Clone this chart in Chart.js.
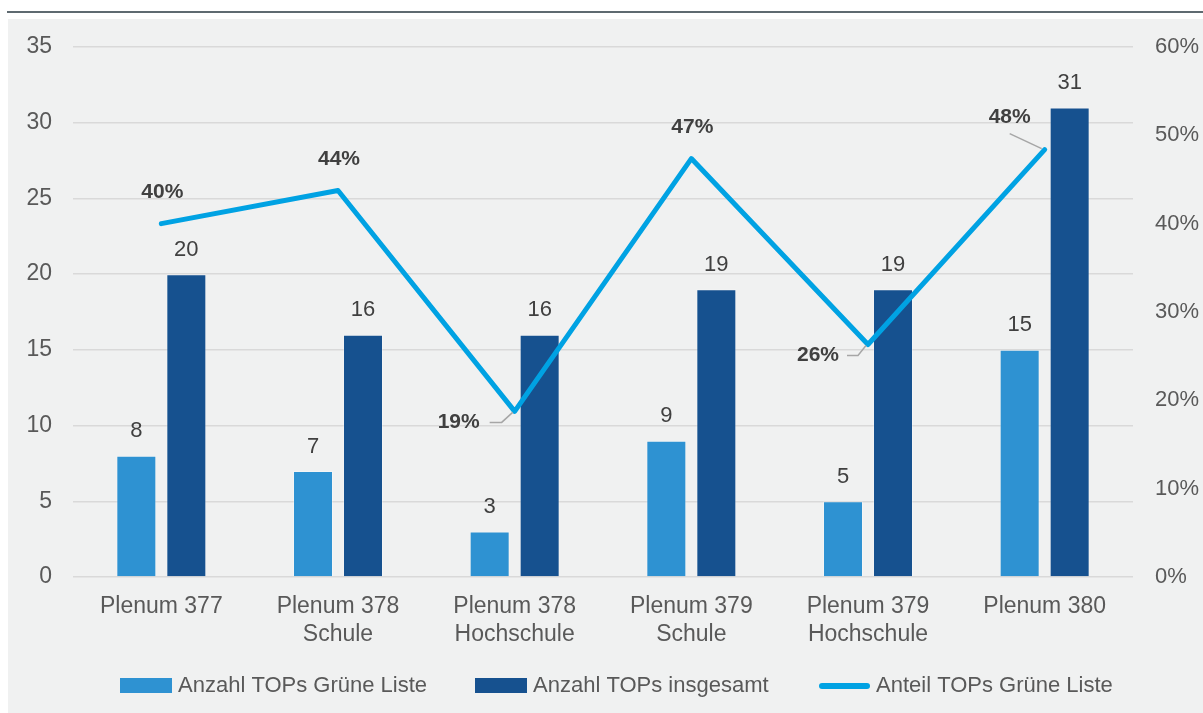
<!DOCTYPE html>
<html>
<head>
<meta charset="utf-8">
<script src="https://cdn.jsdelivr.net/npm/chart.js@4.4.1/dist/chart.umd.min.js"></script>
<style>
  html, body { margin: 0; padding: 0; background: #ffffff; }
  canvas { display: block; }
</style>
</head>
<body>
<canvas id="c" width="1203" height="713"></canvas>
<script>
// ---- data ----
const categories = [
  'Plenum 377',
  ['Plenum 378', 'Schule'],
  ['Plenum 378', 'Hochschule'],
  ['Plenum 379', 'Schule'],
  ['Plenum 379', 'Hochschule'],
  'Plenum 380'
];
const anzahlGrueneListe = [8, 7, 3, 9, 5, 15];
const anzahlInsgesamt = [20, 16, 16, 19, 19, 31];
const anteilGrueneListe = [40.0, 43.75, 18.75, 47.37, 26.32, 48.39];
const leftTicks = [0, 5, 10, 15, 20, 25, 30, 35];
const rightTicks = [0, 10, 20, 30, 40, 50, 60];
const seriesNames = ['Anzahl TOPs Grüne Liste', 'Anzahl TOPs insgesamt', 'Anteil TOPs Grüne Liste'];

// ---- styling ----
const W = 1203, H = 713;
const FONT = "'Liberation Sans', Arial, sans-serif";
const C_LIGHT = '#2e92d2';
const C_DARK = '#16518f';
const C_LINE = '#00a2e3';
const C_TEXT = '#595959';
const C_LABEL = '#404040';
// percent-label offsets relative to each line point (styling only)
const pctStyle = [
  { dx: 1, dy: -31 },
  { dx: 1, dy: -31 },
  { dx: -56, dy: 11, leader: [[-25, 11], [-13, 11], [-2, 1]] },
  { dx: 1, dy: -31 },
  { dx: -50, dy: 11, leader: [[-21, 11], [-10, 11], [-2, 1]] },
  { dx: -35, dy: -32, leader: [[-35, -16], [-3, -1]] }
];

const decoPlugin = {
  id: 'deco',
  beforeDraw(chart) {
    const ctx = chart.ctx;
    ctx.save();
    ctx.fillStyle = '#ffffff';
    ctx.fillRect(0, 0, W, H);
    ctx.fillStyle = '#f0f1f1';
    ctx.fillRect(8, 19, W - 8, H - 19);
    ctx.strokeStyle = '#5e6a70';
    ctx.lineWidth = 2;
    ctx.beginPath();
    ctx.moveTo(7, 12);
    ctx.lineTo(W, 12);
    ctx.stroke();
    ctx.restore();
  },
  afterDatasetsDraw(chart) {
    const ctx = chart.ctx;
    ctx.save();
    // bar value labels
    ctx.font = `22px ${FONT}`;
    ctx.fillStyle = C_LABEL;
    ctx.textAlign = 'center';
    ctx.textBaseline = 'middle';
    [0, 1].forEach(di => {
      const meta = chart.getDatasetMeta(di);
      const vals = chart.data.datasets[di].data;
      meta.data.forEach((el, i) => {
        ctx.fillText(String(vals[i]), el.x, el.y - 24.5);
      });
    });
    // percent labels
    const lm = chart.getDatasetMeta(2);
    const lv = chart.data.datasets[2].data;
    lm.data.forEach((pt, i) => {
      const s = pctStyle[i];
      if (s.leader) {
        ctx.strokeStyle = '#a6a6a6';
        ctx.lineWidth = 1.5;
        ctx.beginPath();
        s.leader.forEach((p, k) => {
          if (k === 0) ctx.moveTo(pt.x + p[0], pt.y + p[1]);
          else ctx.lineTo(pt.x + p[0], pt.y + p[1]);
        });
        ctx.stroke();
      }
      ctx.font = `bold 21px ${FONT}`;
      ctx.fillStyle = C_LABEL;
      ctx.fillText(Math.round(lv[i]) + '%', pt.x + s.dx, pt.y + s.dy);
    });
    ctx.restore();
  },
  afterDraw(chart) {
    const ctx = chart.ctx;
    ctx.save();
    const y = 686;
    ctx.font = `22px ${FONT}`;
    ctx.fillStyle = C_TEXT;
    ctx.textAlign = 'left';
    ctx.textBaseline = 'middle';
    // item 1
    ctx.fillStyle = C_LIGHT;
    ctx.fillRect(120, y - 8, 52, 15);
    ctx.fillStyle = C_TEXT;
    ctx.fillText(seriesNames[0], 178, y);
    // item 2
    ctx.fillStyle = C_DARK;
    ctx.fillRect(475, y - 8, 52, 15);
    ctx.fillStyle = C_TEXT;
    ctx.fillText(seriesNames[1], 533, y);
    // item 3
    ctx.strokeStyle = C_LINE;
    ctx.lineWidth = 6;
    ctx.lineCap = 'round';
    ctx.beginPath();
    ctx.moveTo(822, y);
    ctx.lineTo(867, y);
    ctx.stroke();
    ctx.fillStyle = C_TEXT;
    ctx.fillText(seriesNames[2], 876, y);
    ctx.restore();
  }
};

new Chart(document.getElementById('c'), {
  type: 'bar',
  data: {
    labels: categories,
    datasets: [
      {
        label: seriesNames[0],
        data: anzahlGrueneListe,
        backgroundColor: C_LIGHT,
        borderColor: 'rgba(255,255,255,0.3)',
        borderWidth: 1,
        yAxisID: 'y',
        order: 2,
        barPercentage: 0.8,
        categoryPercentage: 0.566
      },
      {
        label: seriesNames[1],
        data: anzahlInsgesamt,
        backgroundColor: C_DARK,
        borderColor: 'rgba(255,255,255,0.3)',
        borderWidth: 1,
        yAxisID: 'y',
        order: 2,
        barPercentage: 0.8,
        categoryPercentage: 0.566
      },
      {
        type: 'line',
        label: seriesNames[2],
        data: anteilGrueneListe,
        borderColor: C_LINE,
        backgroundColor: C_LINE,
        borderWidth: 5,
        pointRadius: 0,
        tension: 0,
        borderCapStyle: 'round',
        borderJoinStyle: 'round',
        yAxisID: 'y1',
        order: 0
      }
    ]
  },
  options: {
    responsive: false,
    animation: false,
    devicePixelRatio: 1,
    layout: { padding: { top: 47, bottom: 0, left: 0, right: 0 } },
    plugins: {
      legend: { display: false },
      tooltip: { enabled: false },
      title: { display: false }
    },
    scales: {
      x: {
        grid: { display: false, drawTicks: false },
        border: { display: false },
        ticks: {
          color: C_TEXT,
          font: { family: FONT, size: 23 },
          padding: 16,
          maxRotation: 0,
          autoSkip: false
        },
        afterFit(scale) { scale.height = 136; }
      },
      y: {
        position: 'left',
        min: 0,
        max: 35,
        afterBuildTicks(scale) { scale.ticks = leftTicks.map(v => ({ value: v })); },
        grid: { color: '#d9d9d9', lineWidth: 1.5, drawTicks: false },
        border: { display: false },
        ticks: {
          color: C_TEXT,
          font: { family: FONT, size: 23 },
          padding: 21
        },
        afterFit(scale) { scale.width = 73; }
      },
      y1: {
        position: 'right',
        min: 0,
        max: 60,
        afterBuildTicks(scale) { scale.ticks = rightTicks.map(v => ({ value: v })); },
        grid: { drawOnChartArea: false, drawTicks: false },
        border: { display: false },
        ticks: {
          color: C_TEXT,
          font: { family: FONT, size: 22 },
          padding: 22,
          callback: v => v + '%'
        },
        afterFit(scale) { scale.width = 70; }
      }
    }
  },
  plugins: [decoPlugin]
});
</script>
</body>
</html>
